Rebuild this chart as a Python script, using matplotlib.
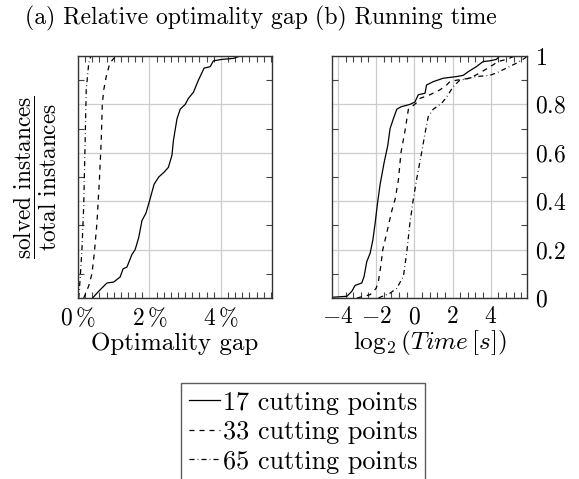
import numpy as np
import matplotlib.pyplot as plt
from matplotlib.ticker import MultipleLocator, FixedLocator

plt.rcParams['mathtext.fontset'] = 'cm'
plt.rcParams['font.family'] = ['cmr10', 'DejaVu Serif']
plt.rcParams['axes.formatter.use_mathtext'] = True

labels = ['17 cutting points', '33 cutting points', '65 cutting points']

# (a) optimality gap in %, fraction of solved instances
gap17_x = [0.41, 0.53, 0.62, 0.81, 1.0, 1.18, 1.26, 1.37, 1.51, 1.6, 1.7, 1.79, 1.9, 2.0,
           2.13, 2.26, 2.41, 2.53, 2.63, 2.67, 2.77, 2.86, 3.0, 3.09, 3.23, 3.37, 3.53,
           3.7, 3.79, 4.03, 4.35, 4.54, 5.45]
gap17_y = [0.0, 0.02, 0.034, 0.062, 0.066, 0.087, 0.12, 0.128, 0.18, 0.2, 0.25, 0.32, 0.35,
           0.4, 0.47, 0.5, 0.52, 0.54, 0.59, 0.65, 0.74, 0.78, 0.8, 0.825, 0.85, 0.9, 0.95,
           0.956, 0.98, 0.986, 0.99, 1.0, 1.0]
gap33_x = [0.16, 0.3, 0.39, 0.46, 0.53, 0.6, 0.65, 0.68, 0.72, 0.79, 0.89, 1.0, 1.09]
gap33_y = [0.0, 0.05, 0.1, 0.19, 0.31, 0.49, 0.65, 0.8, 0.86, 0.915, 0.97, 0.99, 1.0]
gap65_x = [0.02, 0.065, 0.11, 0.16, 0.2, 0.23, 0.3, 0.36]
gap65_y = [0.0, 0.09, 0.2, 0.38, 0.65, 0.86, 0.97, 1.0]

# (b) log2 of running time in seconds
t17_x = [-4.31, -3.53, -3.27, -3.1, -2.75, -2.63, -2.49, -2.31, -2.17, -2.05, -1.93, -1.79,
         -1.58, -1.39, -1.27, -1.1, -0.92, -0.7, -0.23, 0.03, 0.21, 0.56, 0.64, 0.99, 1.51,
         2.21, 2.56, 2.82, 3.25, 3.6, 3.95, 4.3, 4.47]
t17_y = [0.003, 0.007, 0.028, 0.052, 0.062, 0.089, 0.15, 0.186, 0.24, 0.31, 0.39, 0.47,
         0.56, 0.63, 0.7, 0.74, 0.78, 0.79, 0.8, 0.81, 0.84, 0.846, 0.88, 0.894, 0.908,
         0.915, 0.92, 0.935, 0.956, 0.977, 0.98, 0.986, 1.0]
t33_x = [-3.0, -2.31, -2.0, -1.88, -1.76, -1.65, -1.44, -1.18, -1.0, -0.83, -0.7, -0.49,
         -0.31, -0.14, 0.09, 0.3, 0.82, 1.34, 1.69, 1.86, 2.21, 2.9, 3.43, 4.12, 4.38, 4.82,
         5.17, 5.34]
t33_y = [0.0, 0.014, 0.04, 0.069, 0.13, 0.2, 0.27, 0.36, 0.41, 0.49, 0.6, 0.69, 0.78, 0.79,
         0.805, 0.825, 0.84, 0.86, 0.88, 0.894, 0.9, 0.908, 0.93, 0.963, 0.977, 0.986, 0.997,
         1.0]
t65_x = [-1.88, -1.27, -0.92, -0.57, -0.4, -0.23, -0.05, 0.12, 0.38, 0.56, 0.73, 0.99, 1.43,
         1.69, 2.03, 2.38, 3.25, 3.95, 4.3, 4.82, 5.34, 5.77, 5.9]
t65_y = [0.0, 0.02, 0.04, 0.09, 0.186, 0.31, 0.41, 0.49, 0.6, 0.68, 0.75, 0.78, 0.805, 0.83,
         0.873, 0.9, 0.915, 0.92, 0.93, 0.95, 0.97, 0.99, 1.0]

styles = ['-', (0, (4, 4)), (0, (4, 2.5, 0.6, 2.5))]
lw = 0.9
fs = 17

fig = plt.figure(figsize=(5.79, 4.79), dpi=100)
ax1 = fig.add_axes([78 / 579, 1 - 298 / 479, 194 / 579, 242 / 479])
ax2 = fig.add_axes([332 / 579, 1 - 298 / 479, 195 / 579, 242 / 479])

for x, y, ls, lab in zip([gap17_x, gap33_x, gap65_x], [gap17_y, gap33_y, gap65_y], styles, labels):
    ax1.plot(x, y, color='black', lw=lw, linestyle=ls, label=lab)
for x, y, ls in zip([t17_x, t33_x, t65_x], [t17_y, t33_y, t65_y], styles):
    ax2.plot(x, y, color='black', lw=lw, linestyle=ls)

ax1.set_xlim(0, 5.43)
ax2.set_xlim(-4.31, 5.9)
for ax in (ax1, ax2):
    ax.set_ylim(0, 1)
    ax.yaxis.set_major_locator(MultipleLocator(0.2))
    ax.yaxis.set_minor_locator(MultipleLocator(0.1))
    ax.grid(True, which='major', color='#cccccc', lw=0.9)
    ax.tick_params(which='both', direction='in', top=True, bottom=True, left=True, right=True,
                   labelsize=fs, pad=6)
    ax.tick_params(which='major', length=0, width=0.8, color='#444444')
    ax.tick_params(which='minor', length=4, width=0.8, color='#444444')
    for s in ax.spines.values():
        s.set_linewidth(1.0)
        s.set_color('#333333')
    ax.set_axisbelow(True)

ax1.xaxis.set_major_locator(FixedLocator([0, 2, 4]))
ax1.xaxis.set_minor_locator(MultipleLocator(0.2))
ax1.set_xticklabels([r'$0\,\%$', r'$2\,\%$', r'$4\,\%$'])
ax1.tick_params(axis='y', labelleft=False)

ax2.xaxis.set_major_locator(FixedLocator([-4, -2, 0, 2, 4]))
ax2.xaxis.set_minor_locator(MultipleLocator(0.4))
ax2.set_xticklabels([r'$-4$', r'$-2$', r'$0$', r'$2$', r'$4$'])
ax2.set_yticks([0, 0.2, 0.4, 0.6, 0.8, 1.0])
ax2.set_yticklabels([r'$0$', r'$0.2$', r'$0.4$', r'$0.6$', r'$0.8$', r'$1$'])
ax2.tick_params(axis='y', labelleft=False, labelright=True)

ax1.set_xlabel('Optimality gap', fontsize=18, labelpad=2)
ax2.set_xlabel(r'$\log_2\left(Time\,[s]\right)$', fontsize=18.2, labelpad=0)
ax1.set_ylabel(r'$\dfrac{\mathrm{solved\ instances}}{\mathrm{total\ instances}}$',
               fontsize=16.8, labelpad=7.5)

fig.text(25 / 579, 1 - 18 / 479, '(a) Relative optimality gap', fontsize=17.1,
         ha='left', va='center')
fig.text(315 / 579, 1 - 18 / 479, '(b) Running time', fontsize=17.1, ha='left', va='center')

leg = fig.legend(handles=ax1.get_lines(), labels=labels, loc='upper left',
                 bbox_to_anchor=(181 / 579, 1 - 383 / 479), fontsize=18.8, frameon=True,
                 fancybox=False, edgecolor='#333333', handlelength=1.2, handletextpad=0.1,
                 borderpad=0.3, labelspacing=0.22, borderaxespad=0)
leg.get_frame().set_linewidth(1.0)

fig.savefig('out.png', dpi=100)
